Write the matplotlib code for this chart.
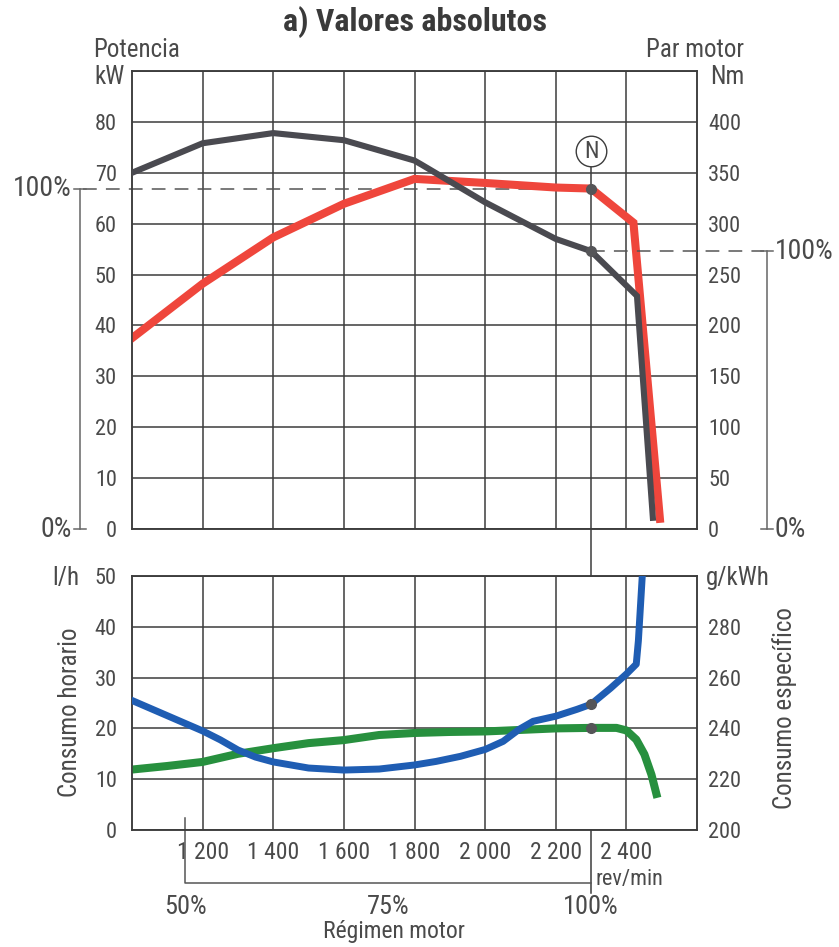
import matplotlib
matplotlib.use('Agg')
import matplotlib.pyplot as plt
from matplotlib import font_manager
from matplotlib.transforms import blended_transform_factory

# pick a narrow font if one is there
names = {f.name for f in font_manager.fontManager.ttflist}
font = 'DejaVu Sans'
for cand in ['Liberation Sans Narrow', 'Roboto Condensed', 'Open Sans Condensed', 'Liberation Sans']:
    if cand in names:
        font = cand
        break
plt.rcParams['font.family'] = [font, 'DejaVu Sans']

# top panel: power (kW) and torque (Nm)
rpm_power = [1000, 1200, 1400, 1600, 1800, 2000, 2200, 2300, 2420, 2495]
power_kw = [37.5, 48.2, 57.3, 63.9, 68.8, 68.0, 67.1, 66.9, 60.2, 2.0]
rpm_torque = [1000, 1200, 1400, 1600, 1800, 1820, 2000, 2100, 2200, 2300, 2430, 2475]
torque_nm = [350, 379, 389, 382, 362, 358, 321, 303, 285, 273, 229, 11]

# bottom panel: hourly consumption (l/h) and specific consumption (g/kWh)
rpm_hourly = [1000, 1100, 1200, 1300, 1400, 1500, 1600, 1700, 1800, 1900, 2000, 2200,
              2300, 2372, 2400, 2428, 2451, 2471, 2485]
hourly_lh = [11.9, 12.6, 13.4, 15.0, 16.1, 17.1, 17.7, 18.7, 19.1, 19.3, 19.4, 20.0,
             20.1, 20.1, 19.6, 17.8, 14.9, 10.9, 7.1]
rpm_specific = [1000, 1050, 1100, 1150, 1200, 1250, 1300, 1350, 1400, 1500, 1600, 1700, 1800,
                1861, 1930, 2000, 2051, 2096, 2136, 2200, 2260, 2300, 2355, 2400, 2428, 2434,
                2445]
specific_gkwh = [251.0, 248.0, 245.0, 242.0, 239.0, 235.5, 231.5, 228.7, 226.8, 224.4, 223.6,
                 224.0, 225.6, 227.0, 229.0, 231.7, 234.9, 239.6, 242.8, 244.8, 247.5, 249.5,
                 255.8, 261.4, 265.3, 274.5, 300.0]

rpm_ticks = [1200, 1400, 1600, 1800, 2000, 2200, 2400]
rpm_labels = ['1 200', '1 400', '1 600', '1 800', '2 000', '2 200', '2 400']
rated_rpm = 2300
rated_power = 66.9
rated_torque = 273
rated_hourly = 20.1
rated_specific = 249.5
pct_rpm = [1150, 1725, 2300]
pct_labels = ['50%', '75%', '100%']

W, H = 839, 947
fig = plt.figure(figsize=(W / 100, H / 100), dpi=100)
fx = lambda px: px / W
fy = lambda py: 1 - py / H

grid_c = '#3c3c3c'
txt_c = '#4a4a4a'
red = '#ef463c'
dark = '#4a4a50'
blue = '#1f5db3'
green = '#27903e'
fs = 16     # tick labels
fl = 18     # axis texts
fp = 20     # percent labels

ax = fig.add_axes([fx(132), fy(529), fx(697) - fx(132), fy(71) - fy(529)])
ax2 = ax.twinx()
axb = fig.add_axes([fx(132), fy(830), fx(697) - fx(132), fy(576) - fy(830)])
axb2 = axb.twinx()

for a in (ax, ax2, axb, axb2):
    a.set_xlim(1000, 2600)
    for s in a.spines.values():
        s.set_color(grid_c)
        s.set_linewidth(1.1)
    a.tick_params(length=0, labelsize=fs, labelcolor=txt_c)

# top axes
ax.set_ylim(0, 90)
ax2.set_ylim(0, 450)
ax.set_yticks(range(0, 100, 10))
ax.set_yticklabels([str(v) for v in range(0, 90, 10)] + [''])
ax2.set_yticks(range(0, 500, 50))
ax2.set_yticklabels([str(v) for v in range(0, 450, 50)] + [''])
ax.set_xticks(rpm_ticks)
ax.set_xticklabels([])
ax.tick_params(axis='y', pad=11)
ax2.tick_params(axis='y', pad=8)
ax.grid(True, color=grid_c, linewidth=1.1)

ax.plot(rpm_power, power_kw, color=red, linewidth=5.8, solid_joinstyle='miter', zorder=3)
ax2.plot(rpm_torque, torque_nm, color=dark, linewidth=4.4, solid_joinstyle='miter', zorder=3)

# bottom axes
axb.set_ylim(0, 50)
axb2.set_ylim(200, 300)
axb.set_yticks(range(0, 60, 10))
axb2.set_yticks(range(200, 320, 20))
axb2.set_yticklabels([str(v) for v in range(200, 300, 20)] + [''])
axb.set_xticks(rpm_ticks)
axb.set_xticklabels(rpm_labels)
axb.tick_params(axis='x', pad=8, labelsize=fs + 1)
axb.tick_params(axis='y', pad=11)
axb2.tick_params(axis='y', pad=8)
axb.grid(True, color=grid_c, linewidth=1.1)

axb.plot(rpm_hourly, hourly_lh, color=green, linewidth=5.8, zorder=3)
axb2.plot(rpm_specific, specific_gkwh, color=blue, linewidth=5.0, zorder=3)

# rated speed line and N marker
tline = blended_transform_factory(ax.transData, fig.transFigure)
ax.plot([rated_rpm, rated_rpm], [fy(165), fy(893)], color=grid_c, linewidth=1.1,
        transform=tline, clip_on=False, zorder=2)
ax.plot([rated_rpm], [fy(151)], 'o', markersize=22, markerfacecolor='white',
        markeredgecolor=grid_c, markeredgewidth=1.0, transform=tline, clip_on=False)
ax.text(rated_rpm, fy(151), 'N', transform=tline, ha='center', va='center',
        fontsize=17, color=txt_c)

ax.plot([rated_rpm], [rated_power], 'o', color='#555558', markersize=7, zorder=5)
ax2.plot([rated_rpm], [rated_torque], 'o', color='#555558', markersize=7, zorder=5)
axb.plot([rated_rpm], [rated_hourly], 'o', color='#555558', markersize=7, zorder=5)
axb2.plot([rated_rpm], [rated_specific], 'o', color='#555558', markersize=7, zorder=5)

# 100% brackets
xr = (rated_rpm - 1000) / 1600
tl = blended_transform_factory(ax.transAxes, ax.transData)
bx = (80 - 132) / 565
ax.plot([bx + 0.006, xr], [rated_power, rated_power], color='#555555', linewidth=1.1,
        dashes=(9, 6), transform=tl, clip_on=False, zorder=2)
ax.plot([bx, bx], [rated_power, 0], color='#666666', linewidth=1.1, transform=tl, clip_on=False)
for yv in (rated_power, 0):
    ax.plot([bx - 0.01, bx + 0.01], [yv, yv], color='#666666', linewidth=1.1,
            transform=tl, clip_on=False)
ax.text(bx - 0.014, rated_power, '100%', transform=tl, ha='right', va='center',
        fontsize=fp, color=txt_c)
ax.text(bx - 0.014, 0, '0%', transform=tl, ha='right', va='center',
        fontsize=fp, color=txt_c)

tr = blended_transform_factory(ax2.transAxes, ax2.transData)
rx = (767 - 132) / 565
ax2.plot([xr, rx - 0.006], [rated_torque, rated_torque], color='#555555', linewidth=1.1,
         dashes=(9, 6), transform=tr, clip_on=False, zorder=2)
ax2.plot([rx, rx], [rated_torque, 0], color='#666666', linewidth=1.1, transform=tr, clip_on=False)
for yv in (rated_torque, 0):
    ax2.plot([rx - 0.01, rx + 0.01], [yv, yv], color='#666666', linewidth=1.1,
             transform=tr, clip_on=False)
ax2.text(rx + 0.014, rated_torque, '100%', transform=tr, ha='left', va='center',
         fontsize=fp, color=txt_c)
ax2.text(rx + 0.014, 0, '0%', transform=tr, ha='left', va='center',
         fontsize=fp, color=txt_c)

# engine speed percentage bracket
tb = blended_transform_factory(axb.transData, fig.transFigure)
axb.plot([pct_rpm[0], pct_rpm[0], pct_rpm[-1]], [fy(818), fy(883), fy(883)],
         color='#555555', linewidth=1.1, transform=tb, clip_on=False)
for r, lab in zip(pct_rpm, pct_labels):
    axb.text(r, fy(907), lab, transform=tb, ha='center', va='center', fontsize=19,
             color=txt_c)
axb.text(2312, fy(879), 'rev/min', transform=tb, ha='left', va='center',
         fontsize=16, color=txt_c)
fig.text(fx(394), fy(931), 'Régimen motor', ha='center', va='center', fontsize=17, color=txt_c)

# titles and axis texts
fig.text(fx(415), fy(22), 'a) Valores absolutos', ha='center', va='center',
         fontsize=23, fontweight='bold', color='#3a3a3a')
fig.text(fx(93), fy(50), 'Potencia', ha='left', va='center', fontsize=fl, color=txt_c)
fig.text(fx(125), fy(77), 'kW', ha='right', va='center', fontsize=fl, color=txt_c)
fig.text(fx(744), fy(50), 'Par motor', ha='right', va='center', fontsize=fl, color=txt_c)
fig.text(fx(744), fy(77), 'Nm', ha='right', va='center', fontsize=fl, color=txt_c)
fig.text(fx(79), fy(578), 'l/h', ha='right', va='center', fontsize=fl, color=txt_c)
fig.text(fx(706), fy(578), 'g/kWh', ha='left', va='center', fontsize=fl, color=txt_c)
fig.text(fx(70), fy(712), 'Consumo horario', rotation=90, ha='center', va='center',
         fontsize=fl, color=txt_c)
fig.text(fx(785), fy(708), 'Consumo específico', rotation=90, ha='center', va='center',
         fontsize=fl, color=txt_c)

fig.savefig('out.png', dpi=100, facecolor='white')
